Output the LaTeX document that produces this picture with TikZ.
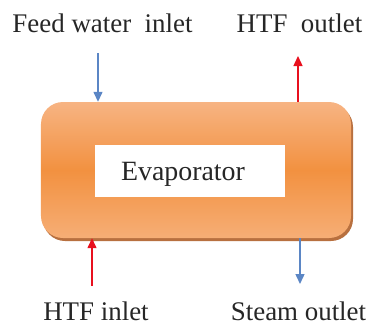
\documentclass[tikz,border=0pt]{standalone}
\usepackage{fontspec}
\setmainfont{Liberation Serif}
\usetikzlibrary{arrows.meta,shadows}
\definecolor{flowblue}{HTML}{5B86C5}
\definecolor{flowred}{HTML}{E8101E}
\definecolor{orangemid}{HTML}{F29140}
\definecolor{orangetop}{HTML}{F7B483}
\definecolor{orangebot}{HTML}{F6AE76}
\definecolor{shadowbrown}{HTML}{B0602A}
\tikzset{
  lbl/.style={font=\fontsize{27}{30}\selectfont, inner sep=0pt, anchor=base, text=black!85},
  flow/.style={line width=1.4bp, -{Triangle[length=10bp,width=9bp]}},
  bluef/.style={flow, draw=flowblue, fill=flowblue},
  redf/.style={flow, draw=flowred, fill=flowred},
}
\begin{document}
\begin{tikzpicture}[x=1bp,y=-1bp]
\useasboundingbox (0,0) rectangle (371,327);
% evaporator body
\node[draw=none, rounded corners=22bp, minimum width=310bp, minimum height=136bp,
      top color=orangetop, bottom color=orangebot, middle color=orangemid,
      drop shadow={shadow xshift=2bp, shadow yshift=-3bp, fill=shadowbrown, opacity=0.9}]
  (box) at (196,170) {};
\node[fill=white, minimum width=190bp, minimum height=52bp, inner sep=0pt] (inner) at (190,171) {};
\node[font=\fontsize{28}{30}\selectfont, inner sep=0pt, text=black!85] (evap) at (183,174) {Evaporator};
% labels
\node[lbl] (fwl) at (102.5,32) {Feed water\ \ inlet};
\node[lbl] (htfo) at (299.5,32) {HTF\ \ outlet};
\node[lbl] (htfi) at (96,320) {HTF inlet};
\node[lbl] (steam) at (298.5,320) {Steam outlet};
% connectors
\coordinate (fwstart) at (98,53);
\coordinate (htfoend) at (298,56);
\coordinate (htfistart) at (92,286);
\coordinate (steamend) at (300,284);
\draw[bluef] (fwstart) -- (fwstart |- box.north);
\draw[redf] (htfoend |- box.north) -- (htfoend);
\draw[redf] (htfistart) -- (htfistart |- box.south);
\draw[bluef] (steamend |- box.south) -- (steamend);
\end{tikzpicture}
\end{document}
